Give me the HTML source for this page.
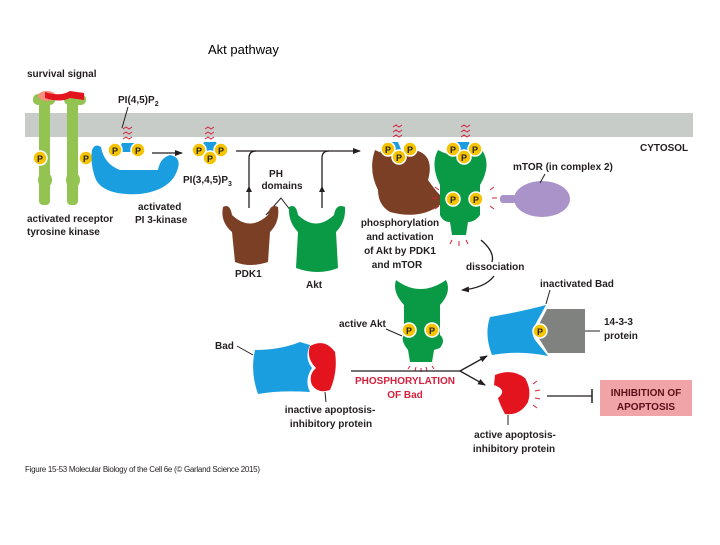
<!DOCTYPE html>
<html><head><meta charset="utf-8"><style>
body{margin:0;background:#fff;}
svg text{font-family:"Liberation Sans",sans-serif;font-weight:bold;font-size:11px;fill:#231f20;}
</style></head><body>
<svg width="720" height="540" viewBox="0 0 720 540" xmlns="http://www.w3.org/2000/svg">
<defs>
<marker id="ah" markerWidth="8" markerHeight="8" refX="7" refY="4" orient="auto" markerUnits="userSpaceOnUse"><path d="M0,1 L8,4 L0,7 z" fill="#231f20"/></marker>
<g id="P"><circle r="7" fill="#f5c400" stroke="#fff" stroke-width="1.5"/><text x="0" y="4" text-anchor="middle" style="font-size:9px">P</text></g>
</defs>
<text x="208" y="54" style="font-weight:normal;font-size:13px;fill:#000">Akt pathway</text>
<!-- membrane -->
<rect x="25" y="113" width="668" height="24" fill="#c8ccc8"/>
<text x="640" y="151" style="font-size:10px">CYTOSOL</text>
<!-- receptor -->
<text x="27" y="77" style="font-size:10px">survival signal</text>
<rect x="39" y="97" width="11" height="108" rx="4" fill="#93c452"/>
<rect x="67" y="97" width="11" height="108" rx="4" fill="#93c452"/>
<rect x="33" y="94" width="22" height="11" rx="5" fill="#93c452"/>
<rect x="64" y="94" width="22" height="11" rx="5" fill="#93c452"/>
<ellipse cx="47" cy="96" rx="9" ry="5" fill="#f3907a"/>
<path d="M45,92 Q60,97 70,91 L84,93 L84,100 L70,98 Q60,103 45,98z" fill="#e3141e"/>
<ellipse cx="45" cy="180" rx="7" ry="8" fill="#93c452"/><ellipse cx="73" cy="180" rx="7" ry="8" fill="#93c452"/>
<use href="#P" x="40" y="158"/><use href="#P" x="86" y="158"/>
<text x="27" y="222" style="font-size:10px">activated receptor</text>
<text x="27" y="235" style="font-size:10px">tyrosine kinase</text>
<!-- PI3K -->
<path d="M92,150 Q95,143 101,147 Q104,164 120,170 L158,170 Q160,158 170,155 Q181,157 178,168 Q172,190 140,194 Q105,196 96,180 Q90,165 92,150z" fill="#1a9ee0"/>
<text x="138" y="210" style="font-size:10px">activated</text>
<text x="135" y="223" style="font-size:10px">PI 3-kinase</text>
<!-- PIP2 -->
<text x="118" y="103" style="font-size:10px">PI(4,5)P<tspan dy="3" style="font-size:7px">2</tspan></text>
<line x1="128" y1="107" x2="122" y2="128" stroke="#231f20"/>
<path d="M122,143 L134,143 L138,152 L118,152z" fill="#1a9ee0"/>
<use href="#P" x="115" y="150"/><use href="#P" x="138" y="150"/>
<path d="M123,129 l3,-2 l3,2 l3,-2 M123,134 l3,-2 l3,2 l3,-2 M123,139 l3,-2 l3,2 l3,-2" stroke="#d4213d" fill="none"/>
<line x1="152" y1="153" x2="182" y2="153" stroke="#231f20" stroke-width="1.3" marker-end="url(#ah)"/>
<!-- PIP3 -->
<path d="M204,142 L216,142 L220,152 L200,152z" fill="#1a9ee0"/>
<use href="#P" x="199" y="150"/><use href="#P" x="221" y="150"/><use href="#P" x="210" y="158"/>
<path d="M205,129 l3,-2 l3,2 l3,-2 M205,134 l3,-2 l3,2 l3,-2 M205,139 l3,-2 l3,2 l3,-2" stroke="#d4213d" fill="none"/>
<text x="183" y="183" style="font-size:10px">PI(3,4,5)P<tspan dy="3" style="font-size:7px">3</tspan></text>
<!-- long line -->
<path d="M236,151 L360,151" stroke="#231f20" stroke-width="1.3" fill="none" marker-end="url(#ah)"/>
<path d="M249,208 L249,158 Q249,151 256,151" stroke="#231f20" stroke-width="1.3" fill="none"/>
<path d="M322,208 L322,158 Q322,151 329,151" stroke="#231f20" stroke-width="1.3" fill="none"/>
<path d="M249,186 l-3,6 h6z M322,186 l-3,6 h6z" fill="#231f20"/>
<text x="276" y="177" text-anchor="middle" style="font-size:10px">PH</text>
<text x="282" y="189" text-anchor="middle" style="font-size:10px">domains</text>
<path d="M266,215 L281,198 L294,215" stroke="#231f20" fill="none"/>
<!-- PDK1 -->
<path d="M223,207 Q230,203 232,215 Q250,232 268,215 Q270,203 278,207 Q280,222 270,232 L268,262 Q250,268 235,262 L232,232 Q220,222 223,207z" fill="#7b3f26"/>
<text x="235" y="277" style="font-size:10px">PDK1</text>
<!-- Akt -->
<path d="M289,207 Q296,203 298,215 Q316,232 334,215 Q336,203 345,207 Q346,222 336,232 L338,268 Q318,276 296,268 L298,232 Q288,222 289,207z" fill="#0a9a45"/>
<text x="306" y="288" style="font-size:10px">Akt</text>
<!-- right complex -->
<path d="M375,150 Q395,160 415,150 Q435,155 428,180 Q435,190 440,195 L440,205 Q420,220 390,212 Q378,205 378,190 Q368,170 375,150z" fill="#7b3f26"/>
<circle cx="430" cy="198" r="5" fill="#7b3f26"/>
<path d="M438,150 Q460,162 482,150 Q492,165 480,185 L480,215 Q475,222 468,222 L466,235 L452,235 L450,222 Q443,222 440,215 L440,185 Q430,165 438,150z" fill="#0a9a45"/>
<path d="M384,142 L398,142 L402,152 L380,152z" fill="#1a9ee0"/>
<use href="#P" x="388" y="149"/><use href="#P" x="410" y="149"/><use href="#P" x="399" y="157"/>
<path d="M455,142 L469,142 L473,152 L451,152z" fill="#1a9ee0"/>
<use href="#P" x="453" y="149"/><use href="#P" x="475" y="149"/><use href="#P" x="464" y="157"/>
<path d="M393,127 l3,-2 l3,2 l3,-2 M393,132 l3,-2 l3,2 l3,-2 M393,137 l3,-2 l3,2 l3,-2 M461,127 l3,-2 l3,2 l3,-2 M461,132 l3,-2 l3,2 l3,-2 M461,137 l3,-2 l3,2 l3,-2" stroke="#d4213d" fill="none"/>
<use href="#P" x="453" y="199"/><use href="#P" x="476" y="199"/>
<path d="M439,190 l-4,-3 M437,198 l-5,0 M439,206 l-4,3 M490,190 l4,-3 M492,198 l5,0 M490,206 l4,3 M452,240 l-2,4 M459,241 l0,5 M466,240 l2,4" stroke="#d4213d" fill="none"/>
<ellipse cx="542" cy="199" rx="28" ry="18" fill="#a993c8"/>
<rect x="500" y="195" width="16" height="8" rx="3" fill="#a993c8"/>
<text x="513" y="170" style="font-size:10px">mTOR (in complex 2)</text>
<line x1="545" y1="174" x2="540" y2="183" stroke="#231f20"/>
<text x="400" y="226" text-anchor="middle" style="font-size:10px">phosphorylation</text>
<text x="400" y="240" text-anchor="middle" style="font-size:10px">and activation</text>
<text x="400" y="254" text-anchor="middle" style="font-size:10px">of Akt by PDK1</text>
<text x="397" y="268" text-anchor="middle" style="font-size:10px">and mTOR</text>
<text x="466" y="270" style="font-size:10px">dissociation</text>
<path d="M481,240 Q495,252 492,262" stroke="#231f20" fill="none" stroke-width="1.3"/>
<path d="M494,276 Q485,288 462,290" stroke="#231f20" fill="none" stroke-width="1.3" marker-end="url(#ah)"/>
<!-- active Akt -->
<path d="M396,280 Q420,298 446,280 Q452,292 440,305 L440,335 Q446,340 440,348 L434,350 L432,362 L410,362 L408,350 Q400,340 404,335 L404,305 Q392,292 396,280z" fill="#0a9a45"/>
<use href="#P" x="409" y="330"/><use href="#P" x="432" y="330"/>
<path d="M410,366 l-2,3 M416,367 l-1,4 M421,368 l0,4 M426,367 l1,4 M432,366 l2,3" stroke="#d4213d" fill="none"/>
<text x="339" y="327" style="font-size:10px">active Akt</text>
<line x1="386" y1="329" x2="402" y2="336" stroke="#231f20"/>
<!-- Bad -->
<path d="M255,350 Q280,350 300,342 L310,345 Q304,358 312,368 Q304,380 310,392 Q280,390 258,394 Q250,372 255,350z" fill="#1a9ee0"/>
<path d="M310,346 Q325,338 335,352 Q338,372 330,390 Q318,394 312,385 Q308,375 316,368 Q306,358 310,346z" fill="#e3141e"/>
<text x="215" y="349" style="font-size:10px">Bad</text>
<line x1="237" y1="346" x2="253" y2="355" stroke="#231f20"/>
<line x1="325" y1="392" x2="326" y2="402" stroke="#231f20"/>
<text x="330" y="413" text-anchor="middle" style="font-size:10px">inactive apoptosis-</text>
<text x="331" y="427" text-anchor="middle" style="font-size:10px">inhibitory protein</text>
<line x1="351" y1="371" x2="460" y2="371" stroke="#231f20" stroke-width="1.3"/>
<line x1="460" y1="371" x2="487" y2="356" stroke="#231f20" stroke-width="1.3" marker-end="url(#ah)"/>
<line x1="460" y1="371" x2="485" y2="385" stroke="#231f20" stroke-width="1.3" marker-end="url(#ah)"/>
<text x="405" y="384" text-anchor="middle" style="font-size:10px;fill:#d4213d">PHOSPHORYLATION</text>
<text x="405" y="398" text-anchor="middle" style="font-size:10px;fill:#d4213d">OF Bad</text>
<!-- inactivated Bad -->
<path d="M490,317 Q520,312 546,305 L535,325 Q530,332 535,340 L548,356 Q520,350 492,355 Q484,335 490,317z" fill="#1a9ee0"/>
<path d="M547,309 L585,309 L585,353 L548,353 L535,332z" fill="#808280"/>
<use href="#P" x="540" y="331"/>
<text x="540" y="287" style="font-size:10px">inactivated Bad</text>
<line x1="550" y1="290" x2="546" y2="304" stroke="#231f20"/>
<line x1="585" y1="331" x2="600" y2="331" stroke="#231f20"/>
<text x="604" y="325" style="font-size:10px">14-3-3</text>
<text x="604" y="339" style="font-size:10px">protein</text>
<!-- active red -->
<path d="M495,375 Q512,368 525,378 Q532,390 528,402 Q520,416 505,414 Q500,405 498,398 Q508,390 494,385z" fill="#e3141e"/>
<path d="M533,384 l4,-3 M535,391 l5,-1 M535,398 l5,1 M533,405 l4,3" stroke="#d4213d" fill="none"/>
<line x1="508" y1="415" x2="508" y2="425" stroke="#231f20"/>
<text x="515" y="438" text-anchor="middle" style="font-size:10px">active apoptosis-</text>
<text x="514" y="452" text-anchor="middle" style="font-size:10px">inhibitory protein</text>
<line x1="547" y1="396" x2="592" y2="396" stroke="#231f20" stroke-width="1.3"/>
<line x1="592" y1="389" x2="592" y2="403" stroke="#231f20" stroke-width="1.5"/>
<rect x="600" y="380" width="92" height="36" fill="#f0a4a8"/>
<text x="646" y="396" text-anchor="middle" style="font-size:10px;fill:#5a1018">INHIBITION OF</text>
<text x="646" y="410" text-anchor="middle" style="font-size:10px;fill:#5a1018">APOPTOSIS</text>
<text x="25" y="472" style="font-weight:normal;font-size:8px" textLength="235">Figure 15-53 Molecular Biology of the Cell 6e (© Garland Science 2015)</text>
</svg>
</body></html>
